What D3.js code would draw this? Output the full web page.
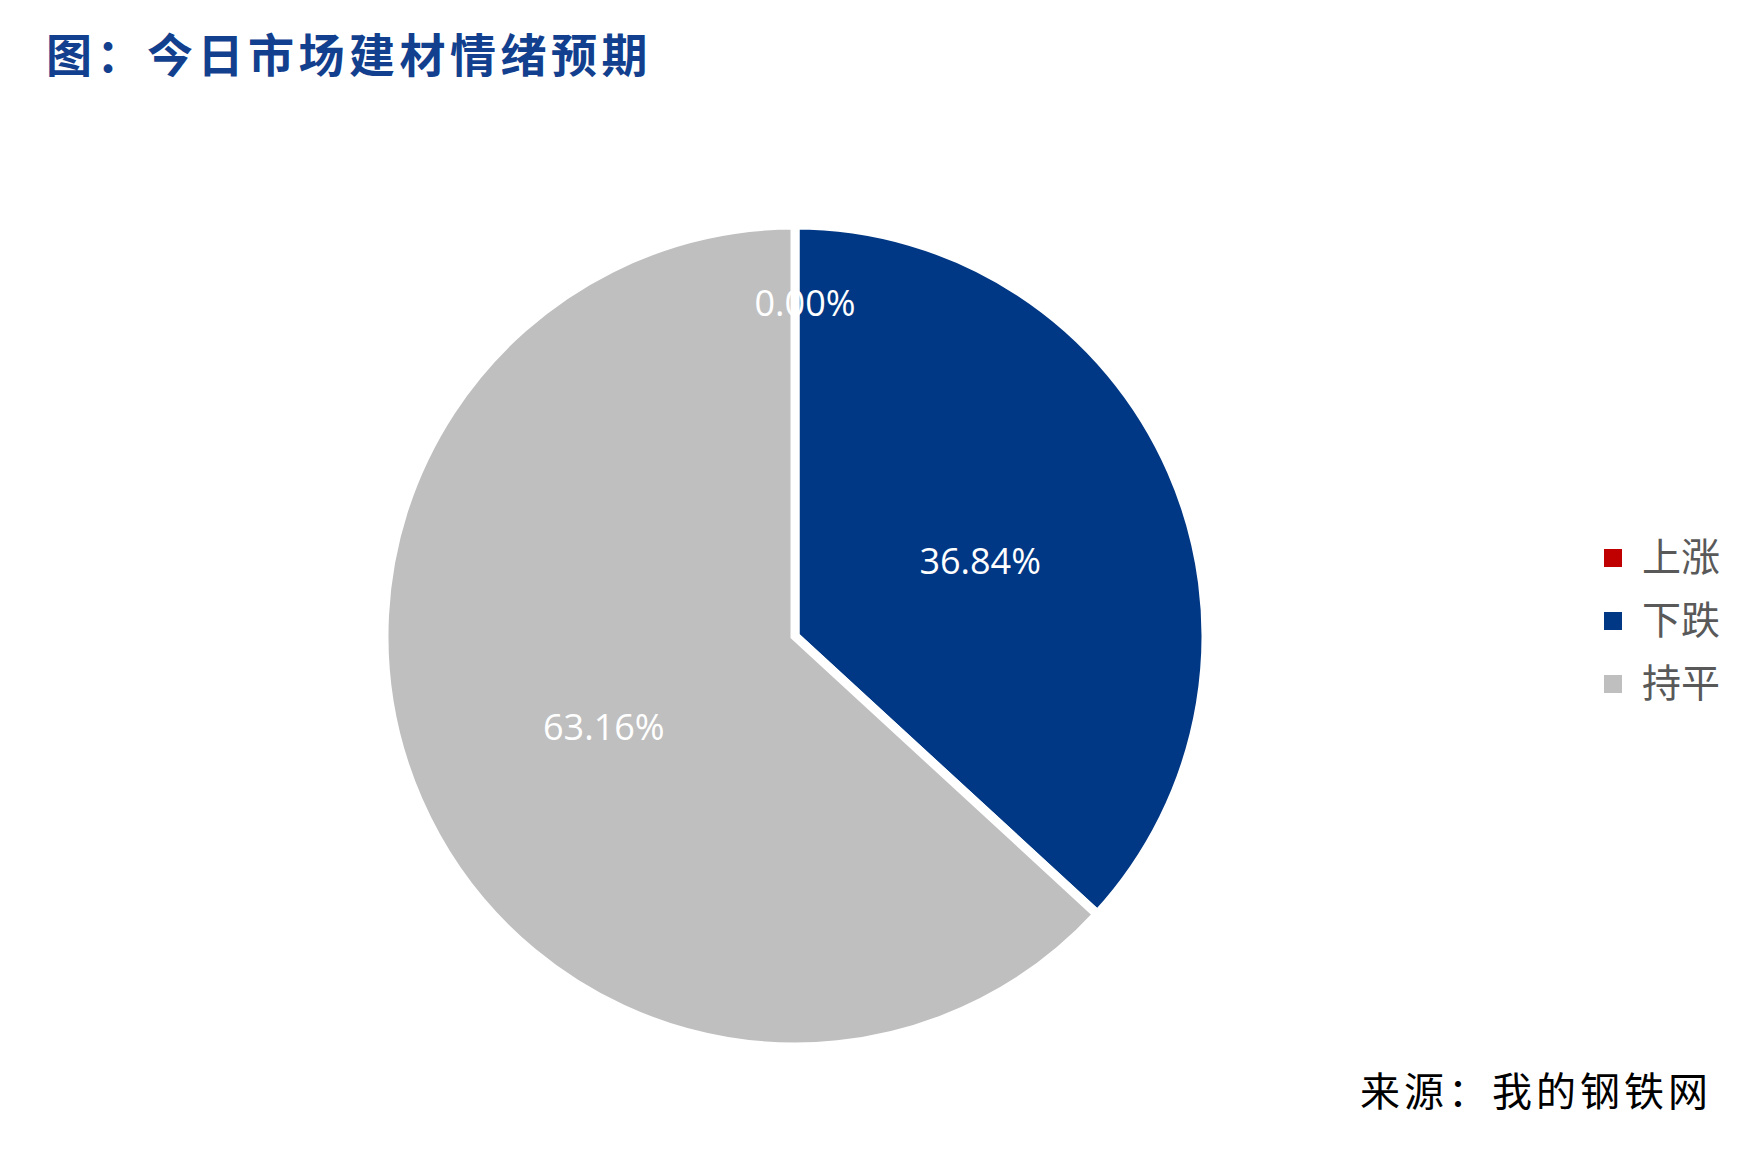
<!DOCTYPE html>
<html>
<head>
<meta charset="utf-8">
<script src="https://cdn.jsdelivr.net/npm/d3@7"></script>
<style>
  body { margin: 0; background: #ffffff; }
  svg { display: block; }
</style>
</head>
<body>
<script>
// chart data
const categories = ["上涨", "下跌", "持平"];
const shares = [0.00, 36.84, 63.16];
const sliceColors = ["#c00000", "#013885", "#bfbfbf"];

const titleText = "图：今日市场建材情绪预期";
const sourceText = "来源：我的钢铁网";

const width = 1764, height = 1169;
const cx = 795, cy = 636, radius = 411;

let svg = d3.select("body").append("svg")
    .attr("width", width)
    .attr("height", height);

svg.append("rect")
    .attr("width", width)
    .attr("height", height)
    .attr("fill", "#ffffff");

// title
svg.append("text")
    .attr("x", 46)
    .attr("y", 72)
    .attr("font-family", "'Noto Sans CJK SC', sans-serif")
    .attr("font-size", 46)
    .attr("font-weight", 600)
    .attr("letter-spacing", 4.5)
    .attr("fill", "#123f8e")
    .text(titleText);

let data = categories.map((c, i) => ({ name: c, value: shares[i], color: sliceColors[i] }));

let pie = d3.pie()
    .sort(null)
    .value(d => d.value);

let arc = d3.arc()
    .innerRadius(0)
    .outerRadius(radius);

let arcs = pie(data);

let g = svg.append("g")
    .attr("transform", `translate(${cx},${cy})`);

g.selectAll(".slice")
    .data(arcs)
    .enter().append("path")
    .attr("class", "slice")
    .attr("d", arc)
    .attr("fill", d => d.data.color)
    .attr("stroke", "#ffffff")
    .attr("stroke-width", 9)
    .attr("stroke-linejoin", "miter");

// labels sit near the middle of each slice, the empty one near the rim
g.selectAll(".label")
    .data(arcs)
    .enter().append("text")
    .attr("class", "label")
    .attr("transform", d => {
        let empty = d.data.value === 0;
        let r = empty ? radius * 0.81 : radius * 0.5;
        let c = d3.arc().innerRadius(r).outerRadius(r).centroid(d);
        return `translate(${c[0] + (empty ? 10 : -3)},${c[1] + (empty ? 0 : 8)})`;
    })
    .attr("dy", "0.36em")
    .attr("text-anchor", "middle")
    .attr("font-family", "'Open Sans', sans-serif")
    .attr("font-size", 36)
    .attr("fill", "#ffffff")
    .text(d => d.data.value.toFixed(2) + "%");

// legend
let legend = svg.append("g")
    .attr("transform", "translate(1604,549)");

let item = legend.selectAll(".item")
    .data(data)
    .enter().append("g")
    .attr("class", "item")
    .attr("transform", (d, i) => `translate(0,${i * 63})`);

item.append("rect")
    .attr("width", 18)
    .attr("height", 18)
    .attr("fill", d => d.color);

item.append("text")
    .attr("x", 38)
    .attr("y", 22)
    .attr("font-family", "'Noto Sans CJK SC', sans-serif")
    .attr("font-size", 39)
    .attr("fill", "#595959")
    .text(d => d.name);

// source note
svg.append("text")
    .attr("x", 1712)
    .attr("y", 1106)
    .attr("text-anchor", "end")
    .attr("font-family", "'Noto Sans CJK SC', sans-serif")
    .attr("font-size", 40)
    .attr("letter-spacing", 4)
    .attr("fill", "#000000")
    .text(sourceText);
</script>
</body>
</html>
